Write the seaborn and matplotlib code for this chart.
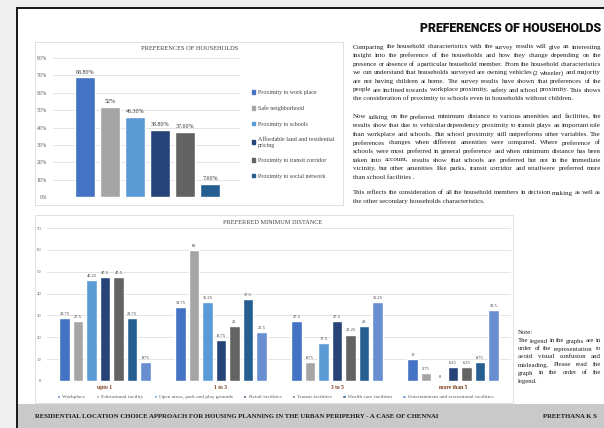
import matplotlib
matplotlib.use("Agg")
import matplotlib.pyplot as plt
import seaborn as sns
import pandas as pd
from matplotlib.patches import Rectangle

# ---------------- data ----------------
pref_labels = ["Proximity to work place", "Safe neighborhood", "Proximity to schools",
               "Affordable land and residential\npricing", "Proximity to transit corridor",
               "Proximity to social network"]
pref_values = [68.8, 52.0, 46.3, 38.8, 37.6, 7.6]
pref_value_labels = ["68.80%", "52%", "46.30%", "38.80%", "37.60%", "7.60%"]
pref_ticks = [0, 10, 20, 30, 40, 50, 60, 70, 80]

dist_categories = ["upto 1", "1 to 3", "3 to 5", "more than 5"]
facilities = ["Workplace", "Educational facility", "Open areas, park and play grounds",
              "Retail facilities", "Transit facilities", "Health care facilities",
              "Entertainment and recreational facilities"]
workplace = [28.75, 33.75, 27.5, 10]
educational = [27.5, 60, 8.75, 3.75]
open_areas = [46.25, 36.25, 17.5, 0]
retail = [47.5, 18.75, 27.5, 6.25]
transit = [47.5, 25, 21.25, 6.25]
health = [28.75, 37.5, 25, 8.75]
entertainment = [8.75, 22.5, 36.25, 32.5]
dist_ticks = [0, 10, 20, 30, 40, 50, 60, 70]

pref_colors = ["#4472C4", "#A5A5A5", "#5B9BD5", "#264478", "#636363", "#255E91"]
fac_colors = ["#4472C4", "#A5A5A5", "#5B9BD5", "#264478", "#636363", "#255E91", "#698ED0"]

para1 = [
    "Comparing the household characteristics with the survey results will give an interesting",
    "insight into the preference of the households and how they change depending on the",
    "presence or absence of a particular household member. From the household characteristics",
    "we can understand that households surveyed are owning vehicles (2 wheeler) and majority",
    "are not having children at home. The survey results have shown that preferences of the",
    "people are inclined towards workplace proximity, safety and school proximity. This shows",
    "the consideration of proximity to schools even in households without children.",
]
para2 = [
    "Now talking on the preferred minimum distance to various amenities and facilities, the",
    "results show that due to vehicular dependency proximity to transit plays an important role",
    "than workplace and schools. But school proximity still outperforms other variables. The",
    "preferences changes when different amenities were compared. Where preference of",
    "schools were most preferred in general preference and when minimum distance has been",
    "taken into account, results show that schools are preferred but not in the immediate",
    "vicinity, but other amenities like parks, transit corridor and retailwere preferred more",
    "than school facilities .",
]
para3 = [
    "This reflects the consideration of all the household members in decision making as well as",
    "the other secondary households characteristics.",
]
note_lines = [
    "The legend in the graphs are in",
    "order of the representation to",
    "avoid visual confusion and",
    "misleading. Please read the",
    "graph in the order of the",
    "legend.",
]

# ---------------- setup ----------------
W, H = 604, 428
sns.set_theme(style="white")
plt.rcParams["font.family"] = ["Liberation Serif", "DejaVu Serif"]

fig = plt.figure(figsize=(W / 100, H / 100), dpi=100, facecolor="white")


def fx(x):
    return x / W


def fy(y):
    return 1 - y / H


def rect(x0, y0, x1, y1):
    return [x0 / W, 1 - y1 / H, (x1 - x0) / W, (y1 - y0) / H]


def frect(x0, y0, x1, y1, color, z=-5, fill=True, lw=0.0):
    fig.patches.append(Rectangle((x0 / W, 1 - y1 / H), (x1 - x0) / W, (y1 - y0) / H,
                                 transform=fig.transFigure, facecolor=color if fill else "none",
                                 edgecolor=color if not fill else "none", lw=lw,
                                 zorder=z, fill=fill))


# background / poster frame
frect(0, 0, W, H, "#efefef", z=-20)
frect(17, 8, W, 404, "#ffffff", z=-19)
frect(17, 404, W, H, "#c9c9c9", z=-18)
frect(15.5, 7, 17.5, H, "#1c1c1c", z=-17)
frect(15.5, 7, W, 9, "#1c1c1c", z=-17)
# chart panels
frect(35, 42, 343, 205, "#dcdcdc", z=-16, fill=False, lw=0.6)
frect(35, 215, 513, 403, "#dcdcdc", z=-16, fill=False, lw=0.6)

# ---------------- top chart ----------------
ax1 = fig.add_axes(rect(53, 58, 240, 197))
df1 = pd.DataFrame({"pref": pref_labels, "share": pref_values})
sns.barplot(data=df1, x="pref", y="share", hue="pref", palette=pref_colors,
            width=0.8, saturation=1, legend=False, ax=ax1)
ax1.set_xlim(-1.28, 6.2)
ax1.set_ylim(0, 80)
ax1.set_yticks(pref_ticks)
ax1.set_yticklabels([f"{t}%" for t in pref_ticks], fontsize=4, color="#595959")
ax1.set_xticks([])
ax1.set_xlabel("")
ax1.set_ylabel("")
ax1.tick_params(axis="y", length=0, pad=4.5)
ax1.yaxis.grid(True, color="#d9d9d9", lw=0.5)
ax1.set_axisbelow(True)
for s in ax1.spines.values():
    s.set_visible(False)
ax1.set_facecolor("none")
for c, lab in zip(ax1.containers, pref_value_labels):
    ax1.bar_label(c, labels=[lab], padding=2, fontsize=4.3, color="#303030")
fig.text(fx(190), fy(48), "PREFERENCES OF HOUSEHOLDS", fontsize=4.6, color="#404040",
         ha="center", va="center")
handles1 = [plt.Rectangle((0, 0), 1, 1, color=c) for c in pref_colors]
fig.legend(handles1, pref_labels, loc="upper left", bbox_to_anchor=(fx(249), fy(87)),
           frameon=False, fontsize=4.3, handlelength=0.55, handleheight=0.55,
           handletextpad=0.5, labelspacing=1.75, borderpad=0, labelcolor="#404040")

# ---------------- bottom chart ----------------
ax2 = fig.add_axes(rect(47, 228, 511, 381))
series = [workplace, educational, open_areas, retail, transit, health, entertainment]
rows = []
for fac, vals in zip(facilities, series):
    for cat, v in zip(dist_categories, vals):
        rows.append({"distance": cat, "facility": fac, "value": v})
df2 = pd.DataFrame(rows)
sns.barplot(data=df2, x="distance", y="value", hue="facility", palette=fac_colors,
            width=0.815, gap=0.19, saturation=1, ax=ax2)
ax2.set_xlim(-0.5, 3.5)
ax2.set_ylim(0, 70)
ax2.set_yticks(dist_ticks)
ax2.set_yticklabels([str(t) for t in dist_ticks], fontsize=3.3, color="#595959")
ax2.tick_params(axis="y", length=0, pad=4)
ax2.tick_params(axis="x", length=0, pad=3)
for lab in ax2.get_xticklabels():
    lab.set_fontsize(4)
    lab.set_fontweight("bold")
    lab.set_color("#7a3a14")
ax2.set_xlabel("")
ax2.set_ylabel("")
ax2.yaxis.grid(True, color="#d9d9d9", lw=0.5)
ax2.set_axisbelow(True)
for s in ax2.spines.values():
    s.set_visible(False)
ax2.set_facecolor("none")
for c, vals in zip(ax2.containers, series):
    ax2.bar_label(c, labels=[f"{v:g}" for v in vals], padding=1.5, fontsize=3.2, color="#303030")
sns.move_legend(ax2, "center", bbox_to_anchor=(fx(275), fy(397)), bbox_transform=fig.transFigure,
                ncol=7, frameon=False, title=None, fontsize=3.8, handlelength=0.6,
                handleheight=0.6, handletextpad=0.4, columnspacing=2.0, labelcolor="#595959",
                borderpad=0)
fig.text(fx(273), fy(223), "PREFERRED MINIMUM DISTANCE", fontsize=4.5, color="#404040",
         ha="center", va="center")

# ---------------- text blocks ----------------
fig.text(fx(601), fy(28.5), "PREFERENCES OF HOUSEHOLDS",
         family=["Roboto", "DejaVu Sans"], fontweight="black",
         fontsize=8.8, color="#111111", ha="right", va="center")

renderer = fig.canvas.get_renderer()


def paragraph(lines, x0, y0, x1, lh, fs, color="#1f1f1f", justify_last=False):
    for i, line in enumerate(lines):
        y = y0 + i * lh
        last = i == len(lines) - 1
        if last and not justify_last:
            fig.text(fx(x0), fy(y), line, fontsize=fs, color=color, ha="left", va="center")
            continue
        words = line.split(" ")
        ts = [fig.text(0, fy(y), w, fontsize=fs, color=color, ha="left", va="center")
              for w in words]
        widths = [t.get_window_extent(renderer).width for t in ts]
        gap = (x1 - x0 - sum(widths)) / max(len(words) - 1, 1)
        gap = max(gap, 0.8)
        x = x0
        for t, w in zip(ts, widths):
            t.set_x(fx(x))
            x += w + gap


paragraph(para1, 353, 47, 601, 8.6, 5.0)
paragraph(para2, 353, 117, 601, 8.6, 5.0)
paragraph(para3, 353, 193, 601, 8.6, 5.0)
fig.text(fx(518), fy(333), "Note:", fontsize=4.9, color="#1f1f1f", ha="left", va="center")
paragraph(note_lines, 518, 341, 601, 8.0, 4.9)

fig.text(fx(35), fy(416),
         "RESIDENTIAL LOCATION CHOICE APPROACH FOR HOUSING PLANNING IN THE URBAN PERIPEHRY - A CASE OF CHENNAI",
         fontsize=4.85, fontweight="bold", color="#1a1a1a", ha="left", va="center")
fig.text(fx(543), fy(416), "PREETHANA K S", fontsize=4.85, fontweight="bold",
         color="#1a1a1a", ha="left", va="center")

fig.savefig("out.png", dpi=100, facecolor=fig.get_facecolor())
